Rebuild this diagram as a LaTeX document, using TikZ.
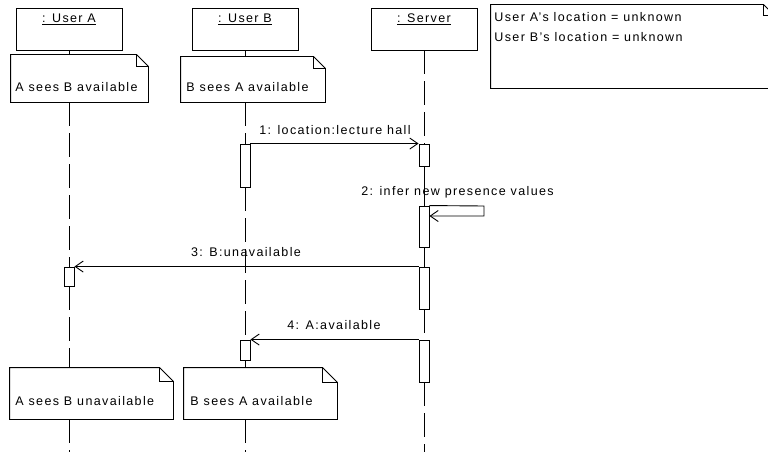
\documentclass[tikz,border=0pt]{standalone}
\usepackage{fontspec}
\setmainfont{Liberation Sans}[LetterSpace=11]
\usetikzlibrary{arrows.meta}
\newcommand{\drawnote}[2]{%
  \draw (#1.south west) -- (#1.north west) -- ([xshift=-#2pt]#1.north east)
        -- ([yshift=-#2pt]#1.north east) -- (#1.south east) -- cycle;
  \draw ([xshift=-#2pt]#1.north east) -- ([xshift=-#2pt,yshift=-#2pt]#1.north east)
        -- ([yshift=-#2pt]#1.north east);}
\begin{document}
\begin{tikzpicture}[x=1pt,y=-1pt,line width=0.9pt,
  every node/.style={font=\fontsize{12.5}{15}\selectfont},
  obj/.style={draw, minimum width=106pt, minimum height=42pt, inner sep=0pt},
  act/.style={draw, fill=white, minimum width=10pt, inner sep=0pt},
  lbl/.style={inner sep=0pt, anchor=base},
  txt/.style={inner sep=0pt, anchor=base west},
  notearea/.style={inner sep=0pt, minimum width=#1},
  life/.style={dash pattern=on 24pt off 7pt},
  msg/.style={-{Straight Barb[length=8pt,width=11pt]}},
]
\useasboundingbox (0,0) rectangle (768,452);
\clip (0,0) rectangle (768,452);
\fill[white] (0,0) rectangle (768,452);

% objects
\node[obj] (A) at (69,29) {};
\node[obj] (B) at (245,29) {};
\node[obj] (S) at (424,29) {};
\node[lbl] (Alab) at (69,23) {\underline{: User A}};
\node[lbl] (Blab) at (245,23) {\underline{: User B}};
\node[lbl] (Slab) at (424,23) {\underline{: Server}};

% top notes
\node[notearea=137pt, minimum height=47pt] (nA1) at (79.5,78.5) {};
\node[notearea=144pt, minimum height=45pt] (nB1) at (253,79.5) {};
\drawnote{nA1}{12}
\drawnote{nB1}{12}
\node[txt] (tA1) at (15,91) {A sees B available};
\node[txt] (tB1) at (186,91) {B sees A available};

% info note
\node[notearea=283pt, minimum height=83pt] (info) at (632.5,46.5) {};
\drawnote{info}{11}
\node[txt] (info1) at (494,22) {User A's location = unknown};
\node[txt] (info2) at (494,42) {User B's location = unknown};

% bottom notes
\node[notearea=163pt, minimum height=51pt] (nA2) at (91.5,393.5) {};
\node[notearea=153pt, minimum height=51pt] (nB2) at (260.5,393.5) {};
\drawnote{nA2}{14}
\drawnote{nB2}{15}
\node[txt] (tA2) at (15,405) {A sees B unavailable};
\node[txt] (tB2) at (190,405) {B sees A available};

% activations
\node[act, minimum height=43pt] (actB1) at (245,165.5) {};
\node[act, minimum height=22pt] (actS1) at (424,155) {};
\node[act, minimum height=41pt] (actS2) at (424,226.5) {};
\node[act, minimum height=19pt] (actA) at (69,276.5) {};
\node[act, minimum height=42pt] (actS3) at (424,288) {};
\node[act, minimum height=20pt] (actB2) at (245,350) {};
\node[act, minimum height=42pt] (actS4) at (424,361) {};

% lifeline ends
\coordinate (endA) at (69,452);
\coordinate (endB) at (245,452);
\coordinate (endS) at (424,452);

% lifelines
\draw (A.south) -- (A.south |- nA1.north);
\draw[life] (A.south |- nA1.south) -- (actA.north);
\draw[life] (actA.south) -- (A.south |- nA2.north);
\draw[life] (A.south |- nA2.south) -- (endA);

\draw (B.south) -- (B.south |- nB1.north);
\draw[life] (B.south |- nB1.south) -- (actB1.north);
\draw[life] (actB1.south) -- (actB2.north);
\draw[life] (actB2.south) -- (B.south |- nB2.north);
\draw[life] (B.south |- nB2.south) -- (endB);

\draw[life] (S.south) -- (actS1.north);
\draw (actS1.south) -- (actS2.north);
\draw (actS2.south) -- (actS3.north);
\draw[life] (actS3.south) -- (actS4.north);
\draw[life] (actS4.south) -- (endS);

% messages
\draw[msg] (actB1.north east) -- (actS1.north west);
\node[lbl] (m1) at (335,134) {1: location:lecture hall};

\coordinate (self1) at (484,206);
\coordinate (self2) at (484,216);
\draw[msg] (actS2.north east) -- (self1) -- (self2) -- (actS2.east |- self2);
\node[lbl] (m2) at (457.5,195) {2: infer new presence values};

\draw[msg] (actS3.north west) -- (actA.north east);
\node[lbl] (m3) at (246,256) {3: B:unavailable};

\draw[msg] (actS4.north west) -- (actB2.north east);
\node[lbl] (m4) at (334,329) {4: A:available};
\end{tikzpicture}
\end{document}
